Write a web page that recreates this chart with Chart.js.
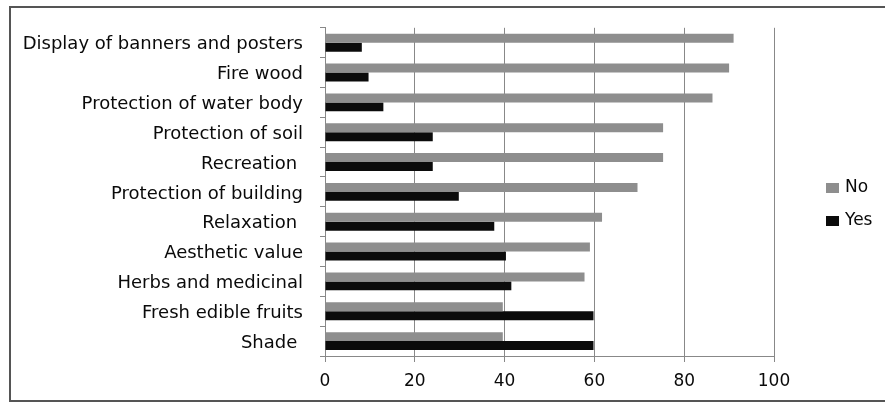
<!DOCTYPE html>
<html>
<head>
<meta charset="utf-8">
<title>Uses of trees</title>
<script src="https://cdn.jsdelivr.net/npm/chart.js@4/dist/chart.umd.min.js"></script>
<style>
  html, body { margin: 0; padding: 0; background: #fff; }
  #wrap { width: 885px; height: 403px; }
</style>
</head>
<body>
<div id="wrap"><canvas id="chart" width="885" height="403"></canvas></div>
<script>
const categories = [
  "Display of banners and posters",
  "Fire wood",
  "Protection of water body",
  "Protection of soil",
  "Recreation ",
  "Protection of building",
  "Relaxation ",
  "Aesthetic value",
  "Herbs and medicinal",
  "Fresh edible fruits",
  "Shade "
];
const noValues = [91, 90, 86.3, 75.3, 75.3, 69.6, 61.7, 59, 57.8, 39.6, 39.6];
const yesValues = [8.2, 9.7, 13, 24, 24, 29.8, 37.7, 40.3, 41.5, 59.8, 59.8];
const xTicks = [0, 20, 40, 60, 80, 100];

const FONT = "'DejaVu Sans', 'Open Sans', sans-serif";

// frame around the whole chart (runs off the right edge in the original)
const framePlugin = {
  id: "frame",
  beforeDraw(chart) {
    const ctx = chart.ctx;
    ctx.save();
    ctx.fillStyle = "#fff";
    ctx.fillRect(0, 0, chart.width, chart.height);
    ctx.strokeStyle = "#555";
    ctx.lineWidth = 2;
    ctx.beginPath();
    ctx.moveTo(chart.width + 2, 7);
    ctx.lineTo(10, 7);
    ctx.lineTo(10, 401);
    ctx.lineTo(chart.width + 2, 401);
    ctx.stroke();
    ctx.restore();
  }
};

// legend drawn by hand so it can sit where the original had it
const sideLegend = {
  id: "sideLegend",
  afterDraw(chart) {
    const ctx = chart.ctx;
    const x = 826;
    let y = 188;
    ctx.save();
    ctx.font = "17px " + FONT;
    ctx.textBaseline = "middle";
    chart.data.datasets.forEach(ds => {
      ctx.fillStyle = ds.backgroundColor;
      ctx.fillRect(x, y - 5, 13, 10);
      ctx.fillStyle = "#0a0a0a";
      ctx.fillText(ds.label, x + 19, y);
      y += 33;
    });
    ctx.restore();
  }
};

new Chart(document.getElementById("chart"), {
  type: "bar",
  data: {
    labels: categories,
    datasets: [
      { label: "No", data: noValues, backgroundColor: "#8e8e8e" },
      { label: "Yes", data: yesValues, backgroundColor: "#0b0b0b" }
    ]
  },
  options: {
    indexAxis: "y",
    responsive: false,
    animation: false,
    layout: { padding: { left: 0, top: 27, right: 111, bottom: 0 } },
    datasets: {
      bar: { categoryPercentage: 0.6, barPercentage: 1.0 }
    },
    plugins: {
      legend: { display: false },
      tooltip: { enabled: false }
    },
    scales: {
      x: {
        min: 0,
        max: 100,
        afterBuildTicks: scale => { scale.ticks = xTicks.map(v => ({ value: v })); },
        afterFit: scale => { scale.height = 47; },
        grid: { color: "#888", lineWidth: 1, tickLength: 6 },
        border: { color: "#888", width: 1 },
        ticks: { color: "#0a0a0a", padding: 9, font: { family: FONT, size: 17 } }
      },
      y: {
        afterFit: scale => { scale.width = 325; },
        grid: { drawOnChartArea: false, color: "#888", tickLength: 5 },
        border: { color: "#888", width: 1 },
        ticks: { color: "#0a0a0a", padding: 17, labelOffset: 2, font: { family: FONT, size: 18 } }
      }
    }
  },
  plugins: [framePlugin, sideLegend]
});
</script>
</body>
</html>
